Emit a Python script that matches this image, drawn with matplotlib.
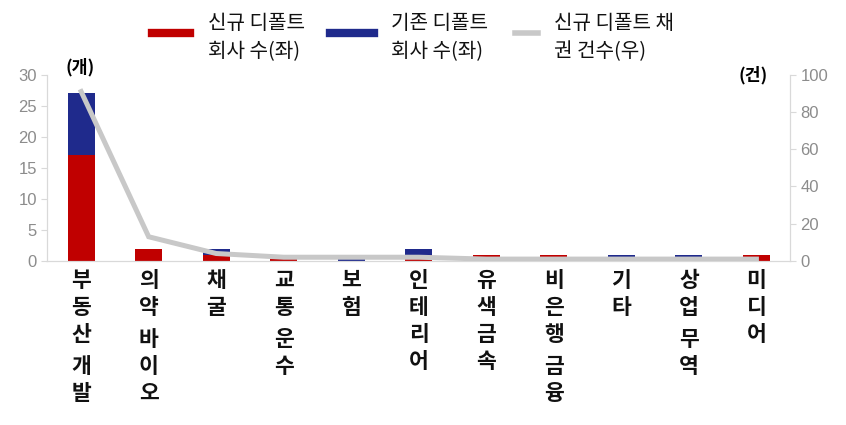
import matplotlib
matplotlib.use('Agg')
import matplotlib.pyplot as plt
from matplotlib.lines import Line2D
from matplotlib.transforms import offset_copy, blended_transform_factory

plt.rcParams['font.family'] = ['Noto Sans CJK KR', 'DejaVu Sans']

categories = ['부동산 개발', '의약 바이오', '채굴', '교통 운수', '보험', '인테리어',
              '유색금속', '비은행 금융', '기타', '상업 무역', '미디어']
new_firms = [17, 2, 1, 1, 0, 1, 1, 1, 0, 0, 1]       # 신규 디폴트 회사 수 (좌)
old_firms = [10, 0, 1, 0, 1, 1, 0, 0, 1, 1, 0]       # 기존 디폴트 회사 수 (좌)
new_bonds = [91, 13, 4, 2, 2, 2, 1, 1, 1, 1, 1]      # 신규 디폴트 채권 건수 (우)

RED = '#c00000'
BLUE = '#1f2a8c'
GRAY = '#c8c8c8'
AXC = '#d9d9d9'
TICKC = '#8c8c8c'

fig = plt.figure(figsize=(8.46, 4.25), dpi=100)
ax = fig.add_axes([0.056, 0.386, 0.878, 0.438])
x = list(range(len(categories)))

ax.bar(x, new_firms, width=0.4, color=RED, zorder=2)
ax.bar(x, old_firms, width=0.4, bottom=new_firms, color=BLUE, zorder=2)
ax.set_xlim(-0.5, len(categories) - 0.5)
ax.set_ylim(0, 30)
ax.set_yticks(range(0, 31, 5))

ax2 = ax.twinx()
ax2.plot(x, new_bonds, color=GRAY, lw=3.6, solid_joinstyle='miter', zorder=3)
ax2.set_ylim(0, 100)
ax2.set_yticks(range(0, 101, 20))

for a in (ax, ax2):
    for s in a.spines.values():
        s.set_color(AXC)
    a.spines['top'].set_visible(False)
    a.tick_params(axis='y', colors=AXC, labelcolor=TICKC, labelsize=12, length=4)
    for lab in a.get_yticklabels():
        lab.set_family(['Liberation Sans Narrow', 'Liberation Sans'])
ax.tick_params(axis='x', length=0, labelbottom=False)

# vertical stacked category labels
trans = blended_transform_factory(ax.transData, ax.transAxes)
for i, name in enumerate(categories):
    off = -9
    for ch in name:
        if ch == ' ':
            off -= 5
            continue
        t = offset_copy(trans, fig=fig, x=0, y=off, units='dots')
        ax.text(i, 0, ch, transform=t, ha='center', va='top', fontsize=15.5,
                fontweight='bold', color='#111111')
        off -= 27

fig.text(0.077, 0.842, '(개)', fontsize=12.5, fontweight='bold', ha='left', va='center')
fig.text(0.873, 0.822, '(건)', fontsize=12.5, fontweight='bold', ha='left', va='center')

# legend
legend_items = [
    (0.180, 0.225, RED, 6, '신규 디폴트\n회사 수(좌)', 0.246),
    (0.390, 0.442, BLUE, 6, '기존 디폴트\n회사 수(좌)', 0.462),
    (0.609, 0.636, GRAY, 4, '신규 디폴트 채\n권 건수(우)', 0.655),
]
for x0, x1, c, w, label, tx in legend_items:
    fig.add_artist(Line2D([x0, x1], [0.922, 0.922], color=c, lw=w,
                          transform=fig.transFigure))
    fig.text(tx, 0.912, label, fontsize=14.5, ha='left', va='center',
             linespacing=1.45, color='#111111')

fig.savefig('out.png', dpi=100)
